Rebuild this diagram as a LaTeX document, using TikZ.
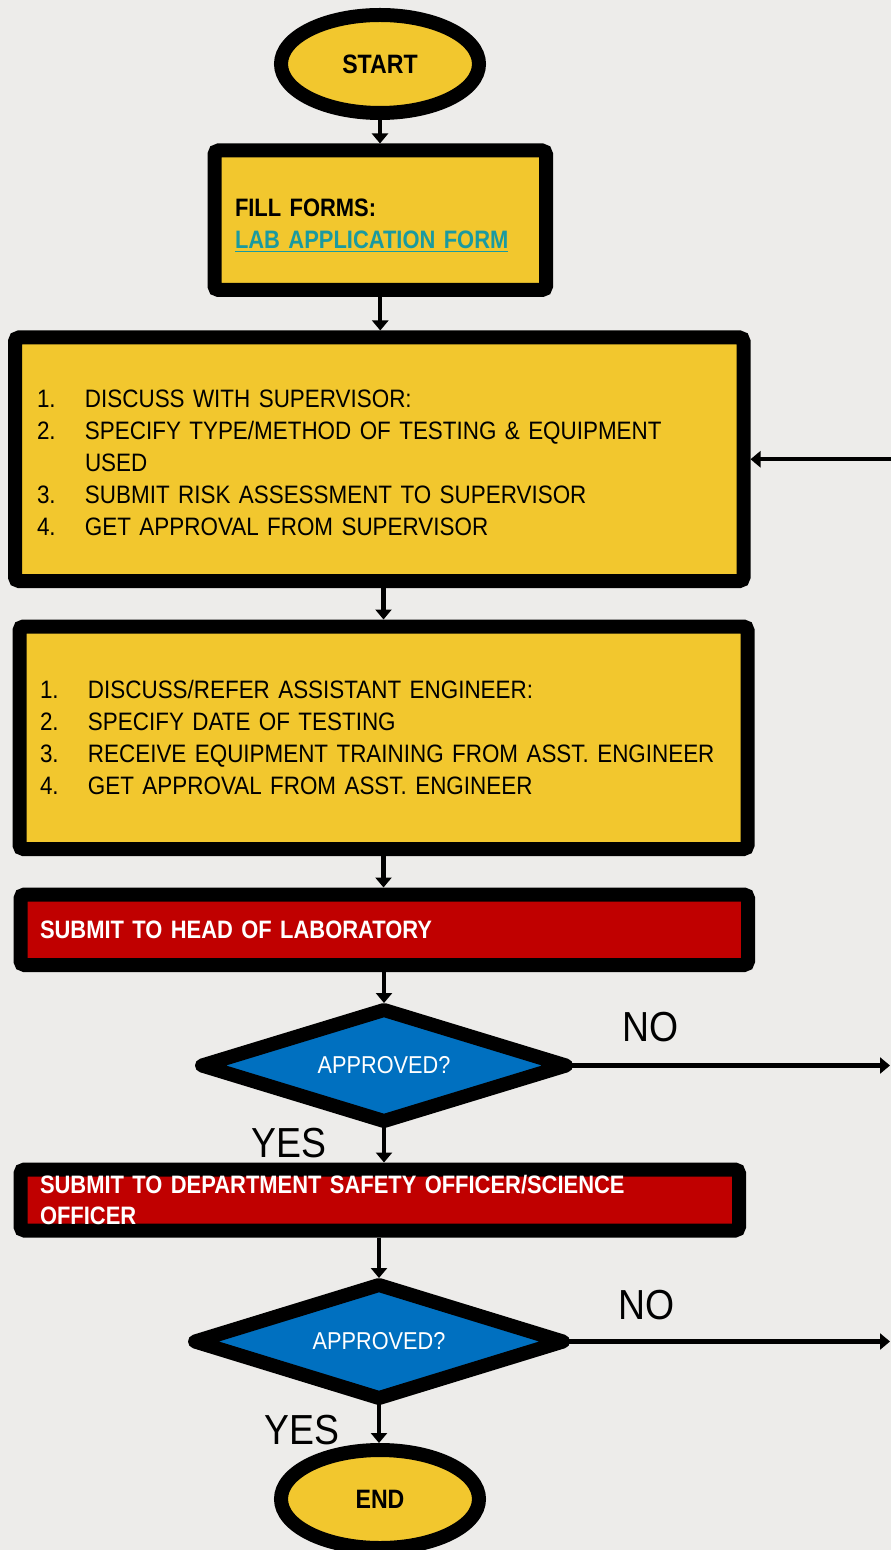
\documentclass[tikz,border=0pt]{standalone}
\usepackage{fontspec}
\setmainfont{Liberation Sans}[FakeStretch=0.89, BoldFeatures={FakeStretch=0.87}]
\usepackage{tikz}
\usetikzlibrary{shapes.geometric, arrows.meta, positioning}

\definecolor{bgpage}{HTML}{EDECEA}
\definecolor{boxyellow}{HTML}{F2C72E}
\definecolor{boxred}{HTML}{C00000}
\definecolor{diablue}{HTML}{0070C0}
\definecolor{linkteal}{HTML}{1A9AA0}

% numbered line inside a box
\newcommand{\stepline}[2]{\makebox[24pt][l]{#1}#2}

\begin{document}
\begin{tikzpicture}[x=0.5pt, y=-0.5pt,
    >={Triangle[length=5pt,width=8pt]},
    flow/.style={line width=2.2pt, ->},
    terminal/.style={ellipse, draw=black, line width=7pt, fill=boxyellow,
        minimum width=99pt, minimum height=49pt, inner sep=0pt,
        font=\fontsize{13.3}{16}\selectfont\bfseries},
    process/.style={rectangle, draw=black, line width=7pt, rounded corners=2pt,
        fill=boxyellow, align=left, inner ysep=0pt,
        font=\fontsize{12.6}{16}\selectfont},
    redbox/.style={process, fill=boxred, text=white,
        font=\fontsize{12.6}{15.5}\selectfont\bfseries},
    decision/.style={diamond, aspect=3.3, draw=black, line width=7pt, line join=round,
        fill=diablue, text=white, inner sep=0pt, outer sep=0pt,
        font=\fontsize{12.2}{14}\selectfont},
    answer/.style={font=\fontsize{21}{24}\selectfont, inner sep=0pt}
]
    % page
    \useasboundingbox (0,0) rectangle (891,1550);
    \clip (0,0) rectangle (891,1550);
    \fill[bgpage] (0,0) rectangle (891,1550);

    % Start
    \node[terminal] (start) at (380,64) {START};

    % Forms
    \node[process, minimum width=165.75pt, minimum height=69.75pt,
        text width=145.25pt, inner xsep=10.25pt] (forms) at (380.25,220.25)
        {\rule{0pt}{14pt}\textbf{FILL FORMS:}\\\textcolor{linkteal}{\textbf{\underline{LAB APPLICATION FORM}}}};

    % Supervisor
    \node[process, minimum width=364.25pt, minimum height=121.75pt,
        text width=342.25pt, inner xsep=11pt] (superv) at (379.25,459.25)
        {\rule{0pt}{12pt}\stepline{1.}{DISCUSS WITH SUPERVISOR:}\\
         \stepline{2.}{SPECIFY TYPE/METHOD OF TESTING \& EQUIPMENT}\\
         \stepline{}{USED}\\
         \stepline{3.}{SUBMIT RISK ASSESSMENT TO SUPERVISOR}\\
         \stepline{4.}{GET APPROVAL FROM SUPERVISOR}};

    % Assistant engineer
    \node[process, minimum width=364pt, minimum height=111.25pt,
        text width=343.5pt, inner xsep=10.25pt] (asst) at (383.5,737.75)
        {\stepline{1.}{DISCUSS/REFER ASSISTANT ENGINEER:}\\
         \stepline{2.}{SPECIFY DATE OF TESTING}\\
         \stepline{3.}{RECEIVE EQUIPMENT TRAINING FROM ASST. ENGINEER}\\
         \stepline{4.}{GET APPROVAL FROM ASST. ENGINEER}};

    % Head of laboratory
    \node[redbox, minimum width=363.75pt, minimum height=35.25pt,
        text width=344.25pt, inner xsep=9.75pt] (headlab) at (384.25,929.75)
        {SUBMIT TO HEAD OF LABORATORY};
    \node[decision, minimum width=182pt, minimum height=55.5pt] (check1) at (384,1065.5) {APPROVED?};
    \node[answer] (no1) at (651,1027) {NO};
    \node[answer] (yes1) at (289,1143) {YES};

    % Safety officer
    \node[redbox, minimum width=359.25pt, minimum height=30.5pt,
        text width=339.75pt, inner xsep=9.75pt] (safety) at (379.75,1200)
        {SUBMIT TO DEPARTMENT SAFETY OFFICER/SCIENCE\\OFFICER};
    \node[decision, minimum width=184pt, minimum height=56.5pt] (check2) at (379,1341.5) {APPROVED?};
    \node[answer] (no2) at (647,1305) {NO};
    \node[answer] (yes2) at (302,1430) {YES};

    % End
    \node[terminal] (finish) at (380,1499) {END};

    % free ends at the page edge
    \coordinate (back) at (891,459.25);
    \coordinate (out1) at (890,1065.5);
    \coordinate (out2) at (890,1341.5);

    % Connectors
    \draw[flow] (start.south) -- (start.south |- forms.north);
    \draw[flow] (forms.south) -- (forms.south |- superv.north);
    \draw[flow] (back) -- (superv.east);
    \draw[flow] (superv.south -| asst.north) -- (asst.north);
    \draw[flow] (asst.south) -- (asst.south |- headlab.north);
    \draw[flow, shorten >=3.5pt] (headlab.south -| check1.north) -- (check1.north);
    \draw[flow] (check1.east) -- (out1);
    \draw[flow] (check1.south) -- (check1.south |- safety.north);
    \draw[flow, shorten >=3.5pt] (safety.south -| check2.north) -- (check2.north);
    \draw[flow] (check2.east) -- (out2);
    \draw[flow] (check2.south) -- (check2.south |- finish.north);
\end{tikzpicture}
\end{document}
